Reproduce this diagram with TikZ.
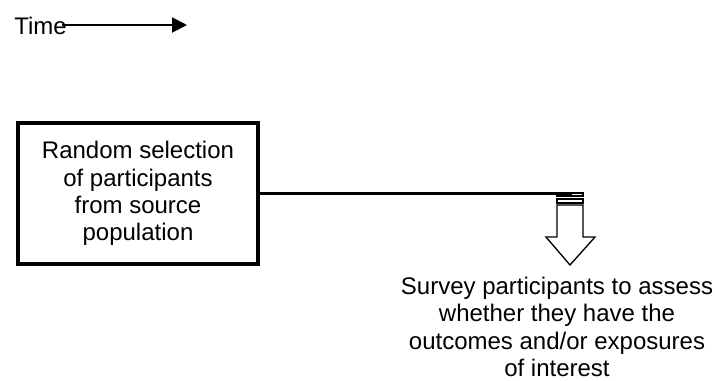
\documentclass[tikz,border=0pt]{standalone}
\usepackage{fontspec}
\setmainfont{Liberation Sans}
\usetikzlibrary{arrows.meta}
\begin{document}
\begin{tikzpicture}[x=0.75pt,y=-0.75pt,
  lbl/.style={font=\fontsize{18}{20.4}\selectfont, inner sep=0pt, align=center},
  stepbox/.style={draw, line width=2.8pt, minimum width=240*0.75pt, minimum height=141*0.75pt, inner sep=0pt},
  link/.style={line width=2.2pt},
  blockarrow/.style={draw, line width=1pt, fill=white}]
\useasboundingbox (0,0) rectangle (715,380);

% time axis
\node[lbl, anchor=west] (time) at (14,26) {Time};
\coordinate (timeend) at (187,25);
\draw[line width=1.5pt, -{Triangle[length=15*0.75pt, width=15*0.75pt]}] (62,25) -- (timeend);

% selection box
\node[stepbox, lbl] (sel) at (138,193.5) {Random selection\\of participants\\from source\\population};

% connector to the survey arrow
\coordinate (arrowtop) at (572,193.5);
\draw[link] (sel.east) -- (arrowtop);

% striped block arrow pointing down
\draw[line width=1pt] (557,193) rectangle (583,196);
\draw[line width=1pt] (557,199) rectangle (583,203);
\draw[blockarrow] (557,205) -- (583,205) -- (583,237) -- (595,237) -- (570,265)
  -- (546,237) -- (557,237) -- cycle;
\coordinate (arrowtip) at (570,265);

% survey label
\node[lbl, anchor=north, text depth=0pt] (survey) at (557,277) {Survey participants to assess\\whether they have the\\outcomes and/or exposures\\of interest};
\end{tikzpicture}
\end{document}
